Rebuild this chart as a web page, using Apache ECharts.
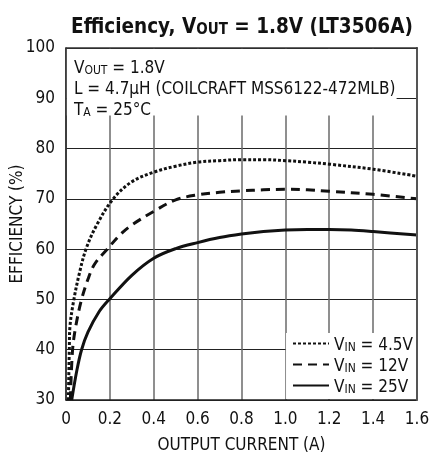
<!DOCTYPE html>
<html>
<head>
<meta charset="utf-8">
<script src="https://cdn.jsdelivr.net/npm/echarts@6/dist/echarts.min.js"></script>
<style>
html,body{margin:0;padding:0;background:#fff;}
#c{width:430px;height:459px;}
</style>
</head>
<body>
<div id="c"></div>
<script>
// ---- data ----
const xTickLabels = ['0','0.2','0.4','0.6','0.8','1.0','1.2','1.4','1.6'];
const yTickLabels = ['30','40','50','60','70','80','90','100'];
const seriesNames = ['4.5V','12V','25V'];

const vin45 = [[0.011,30],[0.015,40],[0.018,44.6],[0.036,50],[0.061,55.2],[0.091,60],[0.14,64.8],[0.215,70],[0.3,73.4],[0.4,75.3],[0.5,76.5],[0.6,77.3],[0.7,77.6],[0.8,77.8],[0.9,77.8],[1.0,77.6],[1.1,77.3],[1.2,76.9],[1.4,75.9],[1.6,74.5]];
const vin12 = [[0.02,30],[0.03,40],[0.046,45],[0.071,50],[0.1,54],[0.13,57],[0.188,60],[0.25,63],[0.3,64.8],[0.4,67.5],[0.5,69.8],[0.6,70.8],[0.7,71.3],[0.8,71.6],[0.9,71.8],[1.0,71.9],[1.1,71.8],[1.2,71.5],[1.4,70.9],[1.6,70.0]];
const vin25 = [[0.026,30],[0.05,36],[0.071,40],[0.1,43.5],[0.15,47.5],[0.197,50],[0.3,54.8],[0.4,58.2],[0.5,60.1],[0.6,61.3],[0.7,62.3],[0.8,63.0],[0.9,63.5],[1.0,63.8],[1.1,63.9],[1.2,63.9],[1.3,63.8],[1.4,63.5],[1.6,62.8]];

const FONT = '"DejaVu Sans"';
const NW = 'condensed';          // font-stretch folded into the weight slot
const BW = 'bold condensed';
const INK = '#111';

const chart = echarts.init(document.getElementById('c'), null, {renderer:'canvas'});

const subRich = {
  n:{fontFamily:FONT,fontWeight:NW,fontSize:17,color:INK,lineHeight:21,verticalAlign:'bottom'},
  s:{fontFamily:FONT,fontWeight:NW,fontSize:12,color:INK,lineHeight:9,verticalAlign:'bottom'}
};

function mkSeries(name, data, type) {
  return {
    name: 'V' + name, type:'line', data:data, smooth:0.35, symbol:'none', z:3,
    lineStyle:{color:INK, width:3, type:type}, itemStyle:{color:INK}
  };
}

const option = {
  animation:false,
  backgroundColor:'#fff',
  title:[{
    text:'{b|Efficiency, V}{bs|OUT}{b| = 1.8V (LT3506A)}',
    left:237, top:5, textAlign:'center',
    textStyle:{rich:{
      b:{fontFamily:FONT,fontSize:20.5,fontWeight:BW,color:INK,lineHeight:28,verticalAlign:'bottom'},
      bs:{fontFamily:FONT,fontSize:15,fontWeight:BW,color:INK,lineHeight:13,verticalAlign:'bottom'}
    }}
  },{
    text:'{n|V}{s|OUT}{n| = 1.8V}\n{n|L = 4.7µH (COILCRAFT MSS6122-472MLB)}\n{n|T}{s|A}{n| = 25°C}',
    left:69, top:51,
    textStyle:{fontWeight:NW,rich:subRich}
  }],
  legend:{
    orient:'vertical', left:287, top:332,
    itemWidth:36, itemHeight:16, itemGap:4,
    data:seriesNames.map(n=>'V'+n),
    formatter:function(n){ return '{n|V}{s|IN}{n| = ' + n.slice(1) + '}'; },
    textStyle:{rich:subRich},
    itemStyle:{color:'rgba(0,0,0,0)',borderWidth:0,opacity:0},
    selectedMode:false
  },
  grid:{left:66, right:13, top:48, bottom:59, show:false, containLabel:false, outerBoundsMode:'none'},
  xAxis:[{
    type:'value', min:0, max:1.6, interval:0.2, position:'bottom',
    axisLine:{show:true,onZero:false,lineStyle:{color:'#222',width:1.5}},
    axisTick:{show:false},
    axisLabel:{margin:11,fontFamily:FONT,fontWeight:NW,fontSize:17,color:INK,
      formatter:function(v){ return xTickLabels[Math.round(v/0.2)]; }},
    splitLine:{show:true,lineStyle:{color:'#6a6a6a',width:1.5}},
    name:'OUTPUT CURRENT (A)', nameLocation:'middle', nameGap:37, nameMoveOverlap:false,
    nameTextStyle:{fontFamily:FONT,fontWeight:NW,fontSize:17,color:INK}
  },{
    type:'value', min:0, max:1.6, interval:0.2, position:'top', z:10,
    axisLine:{show:true,onZero:false,lineStyle:{color:'#333',width:1.5}},
    axisTick:{show:false}, axisLabel:{show:false}, splitLine:{show:false}
  }],
  yAxis:[{
    type:'value', min:30, max:100, interval:10, position:'left',
    axisLine:{show:true,onZero:false,lineStyle:{color:'#222',width:1.5}},
    axisTick:{show:false},
    axisLabel:{margin:11,fontFamily:FONT,fontWeight:NW,fontSize:17,color:INK,
      formatter:function(v){ return yTickLabels[Math.round((v-30)/10)]; }},
    splitLine:{show:true,lineStyle:{color:'#222',width:1.2}},
    name:'EFFICIENCY (%)', nameLocation:'middle', nameGap:40, nameMoveOverlap:false,
    nameTextStyle:{fontFamily:FONT,fontWeight:NW,fontSize:17,color:INK}
  },{
    type:'value', min:30, max:100, interval:10, position:'right', z:10,
    axisLine:{show:true,onZero:false,lineStyle:{color:'#555',width:2}},
    axisTick:{show:false}, axisLabel:{show:false}, splitLine:{show:false}
  }],
  series:[
    {
      name:'bg', type:'line', data:[[0,30]], symbol:'none', z:1, silent:true,
      lineStyle:{opacity:0},
      markArea:{silent:true, itemStyle:{color:'#fff',opacity:1},
        data:[
          [{coord:[0.004,86.6]},{coord:[1.507,99.8]}],
          [{coord:[1.003,30.2]},{coord:[1.597,43.3]}]
        ]}
    },
    mkSeries(seriesNames[0], vin45, [3,2]),
    mkSeries(seriesNames[1], vin12, [9,6]),
    mkSeries(seriesNames[2], vin25, 'solid')
  ]
};
chart.setOption(option);
</script>
</body>
</html>
